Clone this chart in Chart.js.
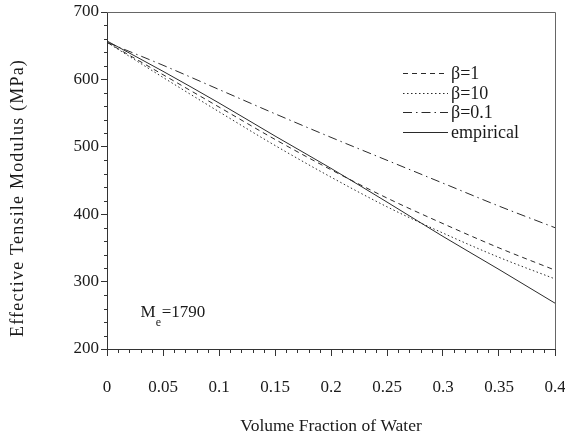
<!DOCTYPE html>
<html><head><meta charset="utf-8">
<script src="https://cdn.jsdelivr.net/npm/chart.js@4.4.0/dist/chart.umd.min.js"></script>
<style>html,body{margin:0;padding:0;background:#fff;}#wrap{width:565px;height:440px;}</style>
</head><body><div id="wrap"><canvas id="c" width="565" height="440"></canvas></div>
<script>
// ---- data ----
const volumeFraction = [0, 0.05, 0.1, 0.15, 0.2, 0.25, 0.3, 0.35, 0.4];
const beta1     = [655, 607, 559, 511, 466, 424, 386, 350, 317];
const beta10    = [655, 603, 552, 502, 455, 411, 372, 336, 304];
const beta01    = [655, 621, 585, 549, 514, 480, 446, 412, 380];
const empirical = [657, 612, 565, 516, 468, 418, 367, 318, 268];
const seriesLabels = ['β=1', 'β=10', 'β=0.1', 'empirical'];
const xTicks = [0, 0.05, 0.1, 0.15, 0.2, 0.25, 0.3, 0.35, 0.4];
const yTicks = [200, 300, 400, 500, 600, 700];
const xMinorStep = 0.01;
const yMinorStep = 20;
const xTitle = 'Volume Fraction of Water';
const yTitle = 'Effective Tensile Modulus (MPa)';
const annotationText = { main: 'M', sub: 'e', rest: '=1790', x: 0.03, y: 247 };

const FONT = '"Liberation Serif", "Times New Roman", serif';
const INK = '#1a1a1a';
const dashes = [[5, 4], [1.5, 2.5], [9, 4, 1.5, 4], []];
const seriesValues = [beta1, beta10, beta01, empirical];

const datasets = seriesValues.map((vals, i) => ({
  label: seriesLabels[i],
  data: volumeFraction.map((x, j) => ({ x: x, y: vals[j] })),
  borderColor: '#2a2a2a',
  borderWidth: 1,
  borderDash: dashes[i],
  pointRadius: 0,
  fill: false,
  cubicInterpolationMode: 'monotone'
}));

const extras = {
  id: 'extras',
  afterDraw(chart) {
    const ctx = chart.ctx;
    const a = chart.chartArea;
    const xs = chart.scales.x, ys = chart.scales.y;
    ctx.save();
    // top and right frame
    ctx.strokeStyle = '#666';
    ctx.lineWidth = 1;
    ctx.beginPath();
    ctx.moveTo(a.left, a.top + 0.5); ctx.lineTo(a.right + 0.5, a.top + 0.5);
    ctx.lineTo(a.right + 0.5, a.bottom);
    ctx.stroke();
    // minor ticks
    ctx.strokeStyle = '#333';
    ctx.beginPath();
    const nx = Math.round((xs.max - xs.min) / xMinorStep);
    for (let i = 0; i <= nx; i++) {
      if (i % 5 === 0) continue;
      const px = Math.round(xs.getPixelForValue(xs.min + i * xMinorStep)) + 0.5;
      ctx.moveTo(px, a.bottom); ctx.lineTo(px, a.bottom + 4);
    }
    const ny = Math.round((ys.max - ys.min) / yMinorStep);
    for (let i = 0; i <= ny; i++) {
      if (i % 5 === 0) continue;
      const py = Math.round(ys.getPixelForValue(ys.min + i * yMinorStep)) + 0.5;
      ctx.moveTo(a.left, py); ctx.lineTo(a.left - 3, py);
    }
    ctx.stroke();
    // legend
    const lx0 = a.left + 296, lx1 = a.left + 341, tx = a.left + 344;
    const rows = [a.top + 61, a.top + 81, a.top + 100, a.top + 120];
    ctx.font = '18px ' + FONT;
    ctx.fillStyle = INK;
    ctx.textBaseline = 'middle';
    ctx.textAlign = 'left';
    for (let i = 0; i < seriesLabels.length; i++) {
      ctx.setLineDash(dashes[i]);
      ctx.strokeStyle = '#2a2a2a';
      ctx.beginPath();
      ctx.moveTo(lx0, rows[i] + 0.5); ctx.lineTo(lx1, rows[i] + 0.5);
      ctx.stroke();
      ctx.fillText(seriesLabels[i], tx, rows[i] + 1);
    }
    ctx.setLineDash([]);
    // M_e annotation
    const bx = xs.getPixelForValue(annotationText.x);
    const by = ys.getPixelForValue(annotationText.y);
    ctx.textBaseline = 'alphabetic';
    ctx.font = '17px ' + FONT;
    ctx.fillText(annotationText.main, bx, by);
    const mw = ctx.measureText(annotationText.main).width;
    ctx.font = '12px ' + FONT;
    ctx.fillText(annotationText.sub, bx + mw, by + 9);
    ctx.font = '17px ' + FONT;
    ctx.fillText(annotationText.rest, bx + mw + 6, by);
    // axis titles
    ctx.textAlign = 'center';
    ctx.textBaseline = 'middle';
    ctx.font = '17.5px ' + FONT;
    ctx.fillText(xTitle, (a.left + a.right) / 2, a.bottom + 77);
    ctx.save();
    ctx.translate(18, a.top + 186);
    ctx.rotate(-Math.PI / 2);
    ctx.font = '18px ' + FONT;
    if ('letterSpacing' in ctx) ctx.letterSpacing = '1.2px';
    ctx.fillText(yTitle, 0, 0);
    ctx.restore();
    ctx.restore();
  }
};

new Chart(document.getElementById('c'), {
  type: 'line',
  data: { datasets: datasets },
  options: {
    responsive: false,
    animation: false,
    devicePixelRatio: 1,
    layout: { padding: { top: 12, right: 10, left: 0, bottom: 0 } },
    plugins: { legend: { display: false }, tooltip: { enabled: false } },
    scales: {
      x: {
        type: 'linear', min: 0, max: 0.4,
        afterBuildTicks: s => { s.ticks = xTicks.map(v => ({ value: v })); },
        afterFit: s => { s.height = 91; s.paddingRight = 0; s.paddingLeft = 0; },
        ticks: {
          font: { family: FONT, size: 17 }, color: INK, padding: 21, maxRotation: 0,
          callback: v => String(Number(v.toFixed(2)))
        },
        grid: { drawOnChartArea: false, tickLength: 7, tickColor: '#333' },
        border: { color: '#333', width: 1 }
      },
      y: {
        type: 'linear', min: 200, max: 700,
        afterBuildTicks: s => { s.ticks = yTicks.map(v => ({ value: v })); },
        afterFit: s => { s.width = 107; s.paddingTop = 0; s.paddingBottom = 0; },
        ticks: { font: { family: FONT, size: 17 }, color: INK, padding: 2 },
        grid: { drawOnChartArea: false, tickLength: 6, tickColor: '#333' },
        border: { color: '#333', width: 1 }
      }
    }
  },
  plugins: [extras]
});
</script></body></html>
